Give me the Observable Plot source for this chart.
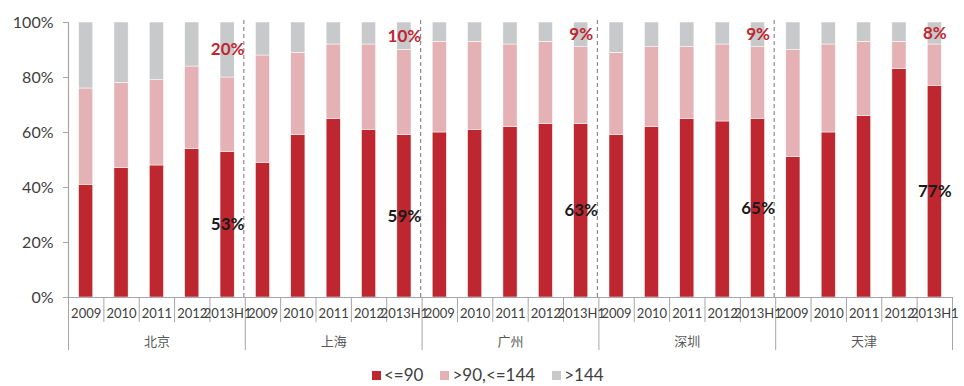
<!DOCTYPE html>
<html>
<head>
<meta charset="utf-8">
<script src="https://cdn.jsdelivr.net/npm/d3@7"></script>
<script src="https://cdn.jsdelivr.net/npm/@observablehq/plot@0.6"></script>
<style>
  body { margin: 0; background: #fff; font-family: Lato, "Noto Sans CJK SC", sans-serif; }
  #legend { height: 24px; display: flex; align-items: center; padding-left: 372px; font-size: 17px; color: #404040; }
  #legend .item { display: flex; align-items: center; margin-right: 17px; }
  #legend .sw { width: 9px; height: 9px; margin-right: 3px; margin-top: 2px; }
</style>
</head>
<body>
<div id="chart"></div>
<div id="legend"></div>
<script>
// Cities (outer axis groups) and periods (inner axis categories)
const cities = ["北京", "上海", "广州", "深圳", "天津"];
const periods = ["2009", "2010", "2011", "2012", "2013H1"];

// Share of units by size band (%), city by city, period by period
const le90   = [41, 47, 48, 54, 53,  49, 59, 65, 61, 59,  60, 61, 62, 63, 63,  59, 62, 65, 64, 65,  51, 60, 66, 83, 77];
const mid    = [35, 31, 31, 30, 27,  39, 30, 27, 31, 31,  33, 32, 30, 30, 28,  30, 29, 26, 28, 26,  39, 32, 27, 10, 15];
const gt144  = [24, 22, 21, 16, 20,  12, 11,  8,  8, 10,   7,  7,  8,  7,  9,  11,  9,  9,  8,  9,  10,  8,  7,  7,  8];

const seriesNames = ["<=90", ">90,<=144", ">144"];
const seriesValues = [le90, mid, gt144];
const colors = ["#BF2730", "#E4B1B4", "#C8C9CB"];

const yTicks = [0, 20, 40, 60, 80, 100];

// Flat table: one row per stacked segment, slot index i along the x axis
const rows = [];
cities.forEach((city, ci) => {
  periods.forEach((period, pi) => {
    const i = ci * periods.length + pi;
    let base = 0;
    seriesNames.forEach((s, si) => {
      const v = seriesValues[si][i];
      rows.push({i, city, period, series: s, value: v, y1: base, y2: base + v});
      base += v;
    });
  });
});

const slots = d3.range(cities.length * periods.length);
const slotBounds = d3.range(slots.length + 1);
const groupBounds = d3.range(0, slots.length + 1, periods.length);
const innerGroupBounds = groupBounds.slice(1, -1);

// Callouts on the last period of each city
const last = cities.map((city, ci) => {
  const i = ci * periods.length + periods.length - 1;
  return {i, red: le90[i], mid: mid[i], gray: gt144[i]};
});

const pad = 0.3;
const axisColor = "#A6A6A6";

const chart = Plot.plot({
  width: 964,
  height: 362,
  marginTop: 22,
  marginBottom: 65,
  marginLeft: 68,
  marginRight: 12,
  style: {fontFamily: "Lato, 'Noto Sans CJK SC', sans-serif", background: "#fff"},
  x: {type: "linear", domain: [0, slots.length], axis: null},
  y: {domain: [0, 100], axis: null},
  color: {domain: seriesNames, range: colors},
  marks: [
    // stacked bars
    Plot.rectY(rows, {
      x1: d => d.i + pad, x2: d => d.i + 1 - pad,
      y1: "y1", y2: "y2",
      fill: "series",
      stroke: "white", strokeWidth: 0.5
    }),
    // dashed dividers between cities
    Plot.ruleX(innerGroupBounds, {x: d => d, y1: 0, y2: 101.5, dx: -1.5, stroke: "#8C8C8C", strokeWidth: 1.2, strokeDasharray: "4,3"}),
    // y axis line, ticks and labels
    Plot.ruleX([0], {y1: 0, y2: 100, stroke: axisColor, strokeWidth: 1.2}),
    Plot.ruleY(yTicks, {y: d => d, x1: 0, x2: 0, stroke: axisColor, insetLeft: -5}),
    Plot.text(yTicks, {x: 0, y: d => d, text: d => d + "%", textAnchor: "end", dx: -15, fontSize: 16, fill: "#404040"}),
    // x axis baseline
    Plot.ruleY([0], {x1: 0, x2: slots.length, stroke: axisColor, strokeWidth: 1.2}),
    // category separators below the baseline
    Plot.ruleX(slotBounds.filter(b => b % periods.length !== 0), {x: d => d, y1: 0, y2: -9.1, stroke: axisColor}),
    Plot.ruleX(groupBounds, {x: d => d, y1: 0, y2: -19.3, stroke: axisColor}),
    // period labels
    Plot.text(slots, {x: d => d + 0.5, y: 0, text: d => periods[d % periods.length], dy: 16, fontSize: 13, fill: "#404040"}),
    // city labels
    Plot.text(cities, {x: (d, ci) => ci * periods.length + periods.length / 2, y: 0, text: d => d, dy: 44, fontSize: 13, fill: "#595959", fontFamily: "'Noto Sans CJK SC', sans-serif"}),
    // callouts: <=90 share (centre of red segment), >144 share (centre of grey segment)
    Plot.text(last, {x: d => d.i + 0.5, y: d => d.red / 2, text: d => d.red + "%", fontSize: 17, fontWeight: "bold", fill: "#1A1A1A"}),
    Plot.text(last, {x: d => d.i + 0.5, y: d => 100 - d.gray / 2, text: d => d.gray + "%", fontSize: 17, fontWeight: "bold", fill: "#BF2730"})
  ]
});
document.getElementById("chart").appendChild(chart);

// legend
const legend = d3.select("#legend");
seriesNames.forEach((s, k) => {
  const item = legend.append("div").attr("class", "item");
  item.append("div").attr("class", "sw").style("background", colors[k]);
  item.append("span").text(s);
});
</script>
</body>
</html>
